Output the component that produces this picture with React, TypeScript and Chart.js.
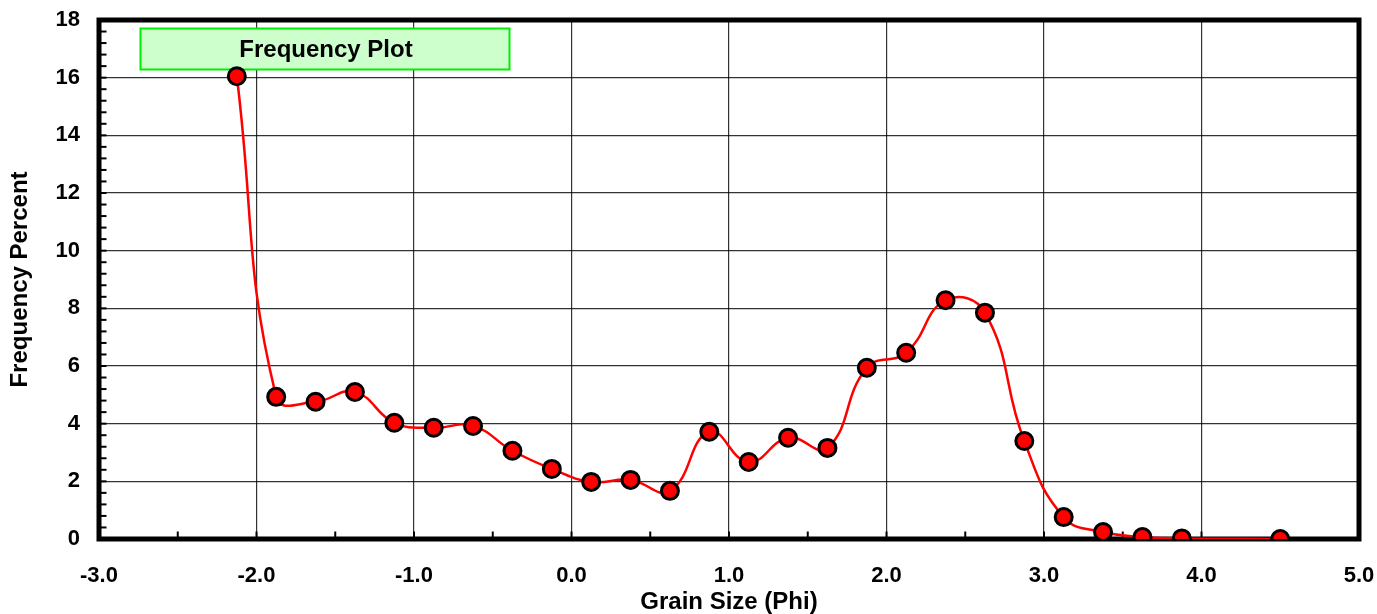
import React, { useEffect, useRef } from "react";
import { Chart, registerables } from "chart.js";

Chart.register(...registerables);

const grainSizePhi: number[] = [
  -2.125, -1.875, -1.625, -1.375, -1.125, -0.875, -0.625, -0.375, -0.125,
  0.125, 0.375, 0.625, 0.875, 1.125, 1.375, 1.625, 1.875, 2.125, 2.375,
  2.625, 2.875, 3.125, 3.375, 3.625, 3.875, 4.5,
];
const frequencyPercent: number[] = [
  16.05, 4.93, 4.76, 5.1, 4.03, 3.86, 3.92, 3.06, 2.43,
  1.98, 2.05, 1.67, 3.72, 2.67, 3.51, 3.16, 5.94, 6.46, 8.28,
  7.85, 3.4, 0.76, 0.24, 0.07, 0.02, 0.0,
];
const xTickValues: number[] = [-3, -2, -1, 0, 1, 2, 3, 4, 5];
const yTickValues: number[] = [0, 2, 4, 6, 8, 10, 12, 14, 16, 18];
const xMinorStep = 0.5;
const yMinorStep = 0.4;
const plotTitle = "Frequency Plot";
const xAxisTitle = "Grain Size (Phi)";
const yAxisTitle = "Frequency Percent";

const FONT = "'Liberation Sans', Arial, sans-serif";

const framePlugin = {
  id: "frameAndTicks",
  beforeDatasetsDraw(chart: any) {
    const { ctx, chartArea, scales } = chart;
    const { left, right, top, bottom } = chartArea;
    const xs = scales.x;
    const ys = scales.y;
    ctx.save();
    // label box
    const bx = left + 41.5;
    const by = top + 8.5;
    const bw = 369;
    const bh = 41;
    ctx.fillStyle = "#ccffcc";
    ctx.fillRect(bx, by, bw, bh);
    ctx.strokeStyle = "#00ee00";
    ctx.lineWidth = 2;
    ctx.strokeRect(bx, by, bw, bh);
    ctx.fillStyle = "#000";
    ctx.font = `bold 24px ${FONT}`;
    ctx.textAlign = "center";
    ctx.textBaseline = "middle";
    ctx.fillText(plotTitle, bx + bw / 2 + 1, by + bh / 2 + 1);

    // minor tick marks (inward)
    ctx.strokeStyle = "#000";
    ctx.lineWidth = 2;
    const yMin = ys.min, yMax = ys.max;
    const nY = Math.round((yMax - yMin) / yMinorStep);
    for (let i = 0; i <= nY; i++) {
      const py = ys.getPixelForValue(yMin + i * yMinorStep);
      ctx.beginPath();
      ctx.moveTo(left, py);
      ctx.lineTo(left + 7.5, py);
      ctx.stroke();
    }
    const xMin = xs.min, xMax = xs.max;
    const nX = Math.round((xMax - xMin) / xMinorStep);
    for (let i = 0; i <= nX; i++) {
      const px = xs.getPixelForValue(xMin + i * xMinorStep);
      ctx.beginPath();
      ctx.moveTo(px, bottom);
      ctx.lineTo(px, bottom - 7.5);
      ctx.stroke();
    }
    // thick frame
    ctx.lineWidth = 5;
    ctx.strokeStyle = "#000";
    ctx.strokeRect(left, top, right - left, bottom - top);
    ctx.restore();
  },
};

const zeroPad = (s: any) => {
  s.paddingTop = 0;
  s.paddingBottom = 0;
  s.paddingLeft = 0;
  s.paddingRight = 0;
};

export default function App() {
  const canvasRef = useRef<HTMLCanvasElement | null>(null);

  useEffect(() => {
    const canvas = canvasRef.current;
    if (!canvas) return;
    const chart = new Chart(canvas, {
      type: "scatter",
      data: {
        datasets: [
          {
            data: grainSizePhi.map((x, i) => ({ x, y: frequencyPercent[i] })),
            showLine: true,
            borderColor: "#ff0000",
            borderWidth: 2.5,
            tension: 0.45,
            pointRadius: 8.5,
            pointHoverRadius: 8.5,
            pointBackgroundColor: "#ff0000",
            pointBorderColor: "#000000",
            pointBorderWidth: 3,
          },
        ],
      },
      options: {
        responsive: false,
        animation: false,
        plugins: {
          legend: { display: false },
          tooltip: { enabled: false },
        },
        layout: { padding: { top: 20, right: 18, left: 0, bottom: 0 } },
        scales: {
          x: {
            type: "linear",
            min: -3,
            max: 5,
            afterBuildTicks: (s: any) => {
              s.ticks = xTickValues.map((v) => ({ value: v }));
            },
            afterFit: (s: any) => {
              s.height = 75;
              zeroPad(s);
            },
            ticks: {
              autoSkip: false,
              maxRotation: 0,
              padding: 24,
              color: "#000",
              font: { family: FONT, size: 22, weight: "bold" },
              callback: (v: any) => Number(v).toFixed(1),
            },
            grid: { color: "rgba(0,0,0,0.8)", lineWidth: 1.2, drawTicks: false },
            border: { display: false },
            title: {
              display: true,
              text: xAxisTitle,
              color: "#000",
              font: { family: FONT, size: 24, weight: "bold", lineHeight: 1 },
              padding: { top: 0, bottom: 0 },
            },
          },
          y: {
            type: "linear",
            min: 0,
            max: 18,
            afterBuildTicks: (s: any) => {
              s.ticks = yTickValues.map((v) => ({ value: v }));
            },
            afterFit: (s: any) => {
              s.width = 99;
              zeroPad(s);
            },
            ticks: {
              autoSkip: false,
              padding: 19,
              color: "#000",
              font: { family: FONT, size: 22, weight: "bold" },
              callback: (v: any) => String(v),
            },
            grid: { color: "rgba(0,0,0,0.8)", lineWidth: 1.2, drawTicks: false },
            border: { display: false },
            title: {
              display: true,
              text: yAxisTitle,
              color: "#000",
              font: { family: FONT, size: 24, weight: "bold", lineHeight: 1 },
              padding: { top: 8, bottom: 0 },
            },
          },
        },
      },
      plugins: [framePlugin],
    });
    return () => chart.destroy();
  }, []);

  return (
    <div style={{ position: "fixed", left: 0, top: 0, width: 1377, height: 614, background: "#fff" }}>
      <canvas ref={canvasRef} width={1377} height={614} style={{ display: "block" }} />
    </div>
  );
}
